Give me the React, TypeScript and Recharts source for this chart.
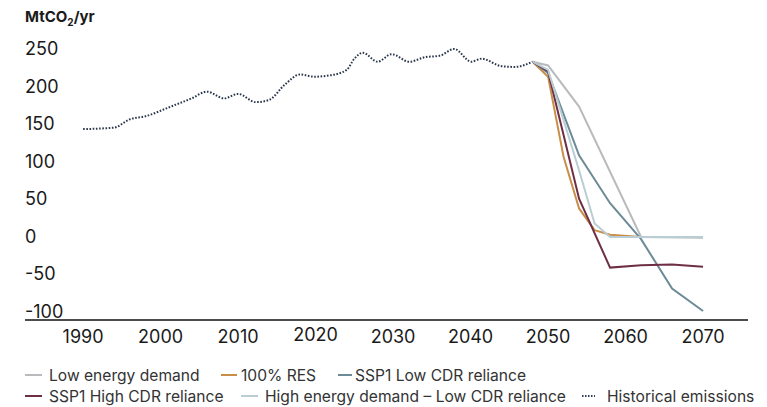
import { LineChart, Line, XAxis, YAxis } from 'recharts';

// historical emissions, MtCO2/yr
const histYears = [1990, 1994, 1996, 1998, 2001.3, 2004, 2006, 2008.2, 2010, 2012.3, 2014, 2016, 2018, 2019.8, 2022, 2024, 2025, 2026.1, 2028, 2029.8, 2032.1, 2034.1, 2036, 2037.9, 2040.1, 2041.4, 2044, 2045.7, 2048];
const histValues = [143, 145, 156, 160, 173, 184, 193, 184, 190, 179, 182, 202, 216, 213, 215, 222, 237, 245, 233, 243, 233, 239, 241, 250, 233, 237, 227, 226, 233];

// scenarios
const lowDemandYears = [2048, 2050, 2054, 2062, 2070];
const lowDemandValues = [233, 228, 173, -1, -2];

const resYears = [2048, 2050, 2052, 2054, 2056, 2058, 2062];
const resValues = [233, 213, 106, 37, 8, 2, -1];

const sspLowYears = [2048, 2050, 2054, 2058, 2062, 2066, 2070];
const sspLowValues = [233, 218, 108, 44, -4, -70, -100];

const sspHighYears = [2048, 2050, 2054, 2058, 2062, 2066, 2070];
const sspHighValues = [233, 220, 50, -42, -39, -38, -41];

const highDemandYears = [2048, 2050, 2054, 2056, 2058, 2062, 2070];
const highDemandValues = [233, 222, 88, 17, -1, -1, -1];

const xTicks = [1990, 2000, 2010, 2020, 2030, 2040, 2050, 2060, 2070];
const yTicks = [-100, -50, 0, 50, 100, 150, 200, 250];

const toRows = (years: number[], values: number[]) =>
  years.map((year, i) => ({ year, value: values[i] }));

const series = [
  { name: 'Low energy demand', color: '#b9babd', data: toRows(lowDemandYears, lowDemandValues) },
  { name: '100% RES', color: '#c98e48', data: toRows(resYears, resValues) },
  { name: 'SSP1 Low CDR reliance', color: '#6c8b96', data: toRows(sspLowYears, sspLowValues) },
  { name: 'SSP1 High CDR reliance', color: '#6e2f46', data: toRows(sspHighYears, sspHighValues) },
  { name: 'High energy demand – Low CDR reliance', color: '#b9cdd4', data: toRows(highDemandYears, highDemandValues) },
];
const historical = toRows(histYears, histValues);

// legend layout: left edge, marker length, gap to text
const legendItems = [
  { ...series[0], left: 25, top: 375, mark: 17, gap: 7 },
  { ...series[1], left: 221, top: 375, mark: 16, gap: 4 },
  { ...series[2], left: 338, top: 375, mark: 14, gap: 3 },
  { ...series[3], left: 25, top: 396, mark: 17, gap: 7 },
  { ...series[4], left: 241, top: 396, mark: 17, gap: 7 },
  { name: 'Historical emissions', color: '#2e3b50', dotted: true, left: 582, top: 396, mark: 13, gap: 12 },
];

const font = 'Inter, "Noto Sans", sans-serif';

const XTick = (props: any) => {
  const { x, payload } = props;
  const lift = payload.value === 2020 ? -2 : 0;
  return (
    <text x={x} y={336 + lift} textAnchor="middle" dominantBaseline="central" fontSize={18} fill="#1a1a1a" fontFamily={font}>
      {payload.value}
    </text>
  );
};

const YTick = (props: any) => {
  const { y, payload } = props;
  return (
    <text x={25} y={y} textAnchor="start" dominantBaseline="central" fontSize={18} fill="#1a1a1a" fontFamily={font}>
      {payload.value}
    </text>
  );
};

export default function App() {
  return (
    <div style={{ position: 'absolute', left: 0, top: 0, width: 767, height: 407, background: '#fff', fontFamily: font }}>
      <div style={{ position: 'absolute', left: 25, top: 7, fontSize: 15, fontWeight: 700, color: '#1a1a1a' }}>
        MtCO<sub style={{ fontSize: 10 }}>2</sub>/yr
      </div>
      <LineChart width={767} height={360} margin={{ top: 40, right: 19, left: 0, bottom: 0 }}>
        <XAxis
          type="number"
          dataKey="year"
          domain={[1982.5, 2075.8]}
          ticks={xTicks}
          tick={<XTick />}
          tickLine={false}
          axisLine={{ stroke: '#111', strokeWidth: 1.5 }}
          height={40}
          allowDataOverflow
        />
        <YAxis
          type="number"
          domain={[-112, 262]}
          ticks={yTicks}
          tick={<YTick />}
          tickLine={false}
          axisLine={false}
          width={25}
          allowDataOverflow
        />
        <Line
          data={historical}
          dataKey="value"
          type="monotone"
          stroke="#2a374c"
          strokeWidth={2}
          strokeDasharray="1.6 1.6"
          dot={false}
          isAnimationActive={false}
        />
        {series.map((s) => (
          <Line
            key={s.name}
            data={s.data}
            dataKey="value"
            type="linear"
            stroke={s.color}
            strokeWidth={2}
            dot={false}
            isAnimationActive={false}
          />
        ))}
      </LineChart>
      {legendItems.map((item: any) => (
        <div
          key={item.name}
          style={{
            position: 'absolute',
            left: item.left,
            top: item.top - 11,
            height: 22,
            display: 'flex',
            alignItems: 'center',
            gap: item.gap,
            fontSize: 15.6,
            color: '#333',
            whiteSpace: 'nowrap',
          }}
        >
          <svg width={item.mark} height={4}>
            <line
              x1={0}
              y1={2}
              x2={item.mark}
              y2={2}
              stroke={item.color}
              strokeWidth={2}
              strokeDasharray={item.dotted ? '1.5 1.5' : undefined}
            />
          </svg>
          <span>{item.name}</span>
        </div>
      ))}
    </div>
  );
}
